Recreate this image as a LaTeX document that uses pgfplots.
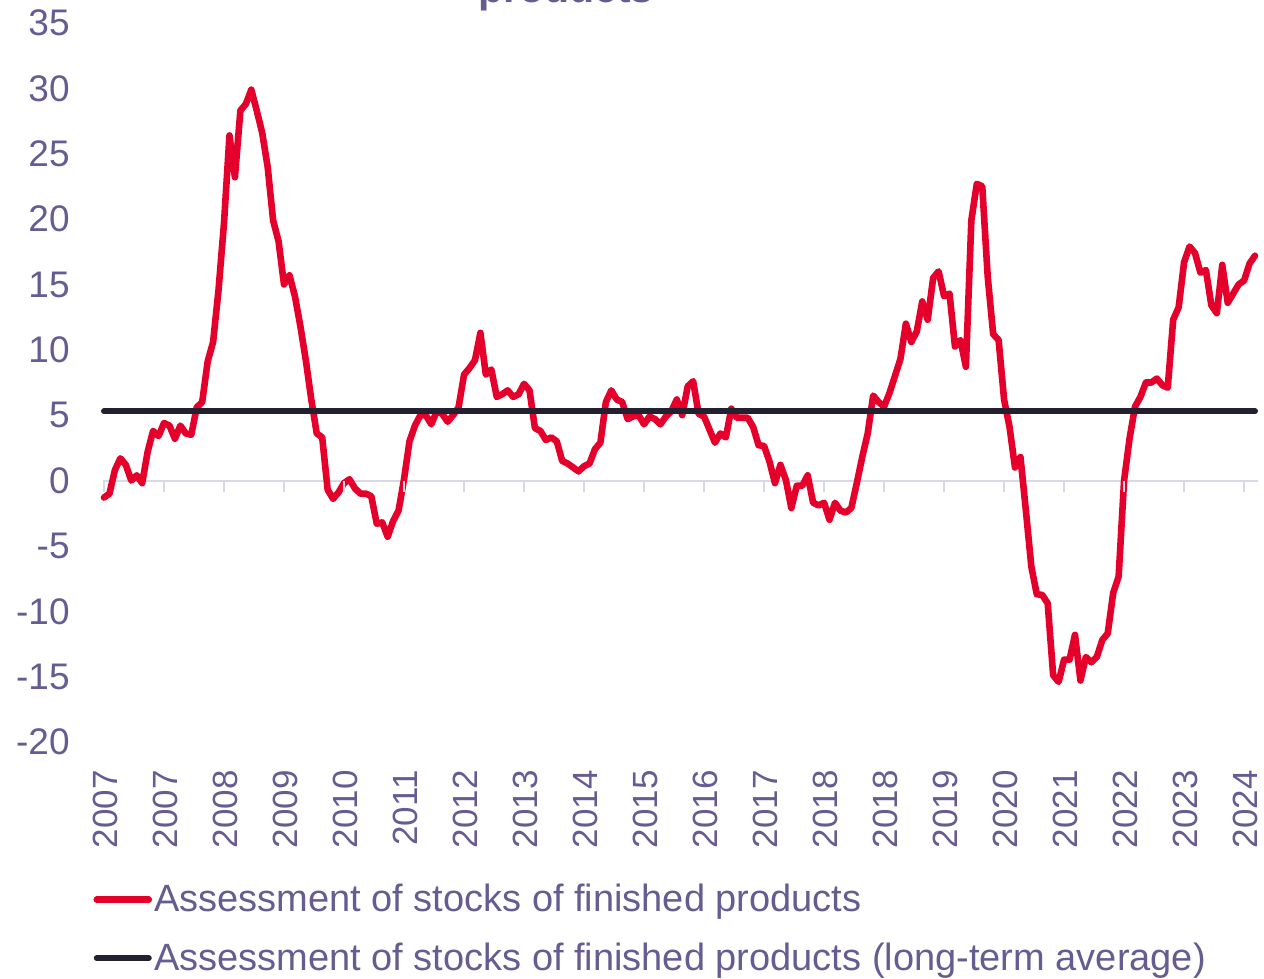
\documentclass[border=0pt]{standalone}
\usepackage{fontspec}
\setmainfont{Liberation Sans}
\usepackage{pgfplots}
\usepackage{pgfplotstable}
\pgfplotsset{compat=1.18}
\definecolor{txt}{HTML}{655C91}
\definecolor{redl}{HTML}{E4002B}
\definecolor{darkl}{HTML}{23212F}
\definecolor{axgray}{HTML}{D9D8E6}

\pgfplotstableread{
idx val
0 -1.3
1 -1.0
2 0.8
3 1.7
4 1.2
5 0.0
6 0.4
7 -0.2
8 2.2
9 3.8
10 3.4
11 4.4
12 4.2
13 3.2
14 4.2
15 3.6
16 3.5
17 5.6
18 6.0
19 9.1
20 10.6
21 14.6
22 19.7
23 26.4
24 23.2
25 28.3
26 28.8
27 29.9
28 28.3
29 26.6
30 24.0
31 19.9
32 18.3
33 15.0
34 15.7
35 14.1
36 11.8
37 9.2
38 6.2
39 3.6
40 3.3
41 -0.7
42 -1.4
43 -0.9
44 -0.2
45 0.1
46 -0.6
47 -1.0
48 -1.0
49 -1.2
50 -3.3
51 -3.2
52 -4.3
53 -3.1
54 -2.3
55 0.1
56 3.0
57 4.2
58 5.0
59 5.0
60 4.3
61 5.3
62 5.1
63 4.5
64 5.0
65 5.6
66 8.1
67 8.6
68 9.2
69 11.3
70 8.1
71 8.5
72 6.4
73 6.6
74 6.9
75 6.4
76 6.6
77 7.4
78 6.9
79 4.0
80 3.8
81 3.1
82 3.3
83 3.0
84 1.5
85 1.3
86 1.0
87 0.7
88 1.1
89 1.3
90 2.4
91 2.9
92 6.0
93 6.9
94 6.2
95 6.0
96 4.7
97 4.9
98 5.0
99 4.3
100 4.9
101 4.7
102 4.3
103 4.9
104 5.3
105 6.2
106 5.0
107 7.2
108 7.6
109 5.1
110 4.9
111 3.9
112 2.9
113 3.6
114 3.3
115 5.5
116 4.8
117 4.8
118 4.8
119 4.1
120 2.7
121 2.65
122 1.45
123 -0.2
124 1.2
125 0.05
126 -2.1
127 -0.4
128 -0.4
129 0.4
130 -1.7
131 -1.9
132 -1.7
133 -3.0
134 -1.7
135 -2.3
136 -2.45
137 -2.1
138 -0.2
139 1.8
140 3.6
141 6.5
142 6.0
143 5.65
144 6.7
145 8.0
146 9.3
147 12.0
148 10.6
149 11.4
150 13.7
151 12.3
152 15.5
153 16.0
154 14.1
155 14.3
156 10.25
157 10.75
158 8.7
159 19.9
160 22.7
161 22.5
162 15.6
163 11.2
164 10.75
165 6.2
166 4.1
167 1.0
168 1.8
169 -2.3
170 -6.6
171 -8.7
172 -8.75
173 -9.4
174 -14.9
175 -15.4
176 -13.7
177 -13.7
178 -11.8
179 -15.3
180 -13.5
181 -13.9
182 -13.5
183 -12.2
184 -11.7
185 -8.6
186 -7.35
187 0.0
188 3.2
189 5.65
190 6.4
191 7.5
192 7.5
193 7.8
194 7.3
195 7.1
196 12.3
197 13.25
198 16.7
199 17.9
200 17.4
201 15.9
202 16.1
203 13.4
204 12.8
205 16.5
206 13.6
207 14.3
208 15.0
209 15.3
210 16.6
211 17.2
}\stocks

\begin{document}
\begin{tikzpicture}
\begin{axis}[
  at={(52pt,118.5pt)}, anchor=south west,
  scale only axis, width=575.5pt, height=359.5pt,
  xmin=0, xmax=211, ymin=-20, ymax=35,
  clip=false,
  axis line style={draw=none},
  major tick length=0pt,
  xtick={0,11,...,209},
  xticklabels={2007,2007,2008,2009,2010,2011,2012,2013,2014,2015,2016,2017,2018,2018,2019,2020,2021,2022,2023,2024},
  ytick={-20,-15,...,35},
  /pgf/number format/assume math mode=true,
  tick label style={text=txt},
  xticklabel style={xshift=0.8pt, rotate=90, anchor=east, inner sep=0pt, font=\fontsize{17.5}{20}\selectfont},
  xticklabel shift=14pt,
  yticklabel style={anchor=east, inner sep=0pt, font=\fontsize{18.5}{22}\selectfont},
  yticklabel shift=17pt,
  legend cell align=left,
  legend image code/.code={\draw[#1] (0pt,0pt) -- (26pt,0pt);},
  legend style={at={(rel axis cs:-0.0095,-0.1947)}, anchor=north west, draw=none, fill=none,
    font=\fontsize{19}{22}\selectfont, text=txt, row sep=12pt, inner sep=0pt,
    nodes={inner sep=1pt}},
]
\addplot[axgray, line width=1pt, forget plot] coordinates {(-0.2,0) (211.5,0)};
\addplot[axgray, only marks, mark=|, mark size=2.75pt, mark options={line width=1pt}, forget plot]
  coordinates {(0,-0.42) (11,-0.42) (22,-0.42) (33,-0.42) (44,-0.42) (55,-0.42) (66,-0.42) (77,-0.42) (88,-0.42) (99,-0.42) (110,-0.42) (121,-0.42) (132,-0.42) (143,-0.42) (154,-0.42) (165,-0.42) (176,-0.42) (187,-0.42) (198,-0.42) (209,-0.42)};
\addplot[redl, line width=3.3pt, line join=round, line cap=round] table[x=idx,y=val]{\stocks};
\addlegendentry{Assessment of stocks of finished products}
\addplot[darkl, line width=3pt, line cap=round] coordinates {(0,5.3) (211,5.3)};
\addlegendentry{Assessment of stocks of finished products (long-term average)}
\end{axis}
\node[font=\bfseries\fontsize{20.5}{24}\selectfont, text=txt, anchor=base] at (283pt,488pt) {products};
\pgfresetboundingbox
\useasboundingbox (0,0) rectangle (632pt,489.5pt);
\end{tikzpicture}
\end{document}
